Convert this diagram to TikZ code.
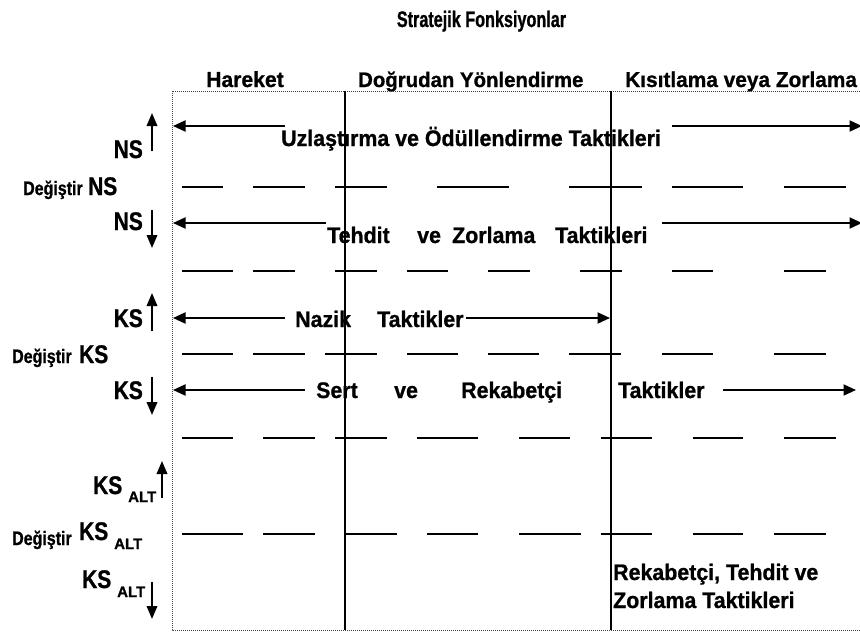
\documentclass[tikz,border=0pt]{standalone}
\usepackage{fontspec}
\setmainfont{Liberation Sans}[BoldFeatures={FakeBold=0.9}]
% normal-width and condensed cuts of the same family, slightly heavier bold
\newfontfamily\bodyfont{Liberation Sans}[FakeStretch=0.95, BoldFeatures={FakeBold=0.9}]
\newfontfamily\headfont{Liberation Sans}[FakeStretch=0.97, BoldFeatures={FakeBold=0.9}]
\newfontfamily\condfont{Liberation Sans}[FakeStretch=0.82, BoldFeatures={FakeBold=0.9}]
\newfontfamily\titlefont{Liberation Sans}[FakeStretch=0.72, BoldFeatures={FakeBold=0.9}]
\usetikzlibrary{arrows.meta}

\tikzset{
  body/.style={inner sep=0pt, font=\bodyfont\bfseries\fontsize{22.5}{27}\selectfont},
  head/.style={inner sep=0pt, font=\headfont\bfseries\fontsize{21}{25}\selectfont},
  big/.style={inner sep=0pt, font=\condfont\bfseries\fontsize{25.5}{30}\selectfont},
  small/.style={inner sep=0pt, font=\condfont\bfseries\fontsize{19.5}{23}\selectfont},
  sub/.style={inner sep=0pt, font=\bfseries\fontsize{15}{18}\selectfont},
  arr/.style={line width=2pt, -{Triangle[length=12.5pt,width=11pt]}},
  varr/.style={line width=2pt, -{Triangle[length=13pt,width=10.5pt]}},
  gapline/.style={line width=1.4pt},
  divider/.style={line width=1.5pt},
  frame/.style={densely dotted, line width=1pt, black!75}
}

\begin{document}
\begin{tikzpicture}[x=1pt, y=-1pt]
\useasboundingbox (0,0) rectangle (860,633);

% title and column headings
\node[inner sep=0pt, anchor=base, font=\titlefont\bfseries\fontsize{22.5}{26}\selectfont] (title) at (481.5,27) {Stratejik Fonksiyonlar};
\node[head, anchor=base west, font=\headfont\bfseries\fontsize{21.8}{26}\selectfont] (h1) at (206,87) {Hareket};
\node[head, anchor=base west] (h2) at (358,87) {Doğrudan Yönlendirme};
\node[head, anchor=base west, font=\headfont\bfseries\fontsize{21.5}{26}\selectfont] (h3) at (625,87) {Kısıtlama veya Zorlama};

% frame (open on the right) and column dividers
\coordinate (ftr) at (870,91);
\coordinate (ftl) at (172,91);
\coordinate (fbl) at (172,630);
\coordinate (fbr) at (870,630);
\draw[frame] (ftr) -- (ftl) -- (fbl) -- (fbr);
\coordinate (d1t) at (345,91);  \coordinate (d1b) at (345,630);
\coordinate (d2t) at (611,91);  \coordinate (d2b) at (611,630);
\draw[divider] (d1t) -- (d1b);
\draw[divider] (d2t) -- (d2b);

% broken separator lines between rows
\foreach \y/\segs in {
  187/{182/223,253/305,335/387,437/509,569/642,672/743,784/846},
  271/{182/233,253/295,335/377,407/448,488/530,580/622,672/713,784/826},
  354/{182/233,253/305,325/377,407/458,488/539,569/621,662/713,774/826},
  438/{182/233,263/315,335/387,417/478,519/570,601/652,693/743,784/836},
  534/{182/243,263/315,345/397,427/478,519/581,601/652,693/743,774/826}}{
  \foreach \a/\b in \segs {
    \draw[gapline] (\a,\y) -- (\b,\y);
  }
}

% row 1
\node[body, anchor=base west] (r1) at (281,146) {Uzlaştırma ve Ödüllendirme Taktikleri};
\coordinate (r1a) at (285,126); \coordinate (r1l) at (173,126);
\coordinate (r1b) at (672,126); \coordinate (r1r) at (862,126);
\draw[arr] (r1a) -- (r1l);
\draw[arr] (r1b) -- (r1r);

% row 2
\node[body, anchor=base west] (r2a) at (327,243) {Tehdit};
\node[body, anchor=base west] (r2b) at (417,243) {ve};
\node[body, anchor=base west] (r2c) at (452,243) {Zorlama};
\node[body, anchor=base west] (r2d) at (555,243) {Taktikleri};
\coordinate (r2s) at (326,223); \coordinate (r2l) at (173,223);
\coordinate (r2t) at (662,223); \coordinate (r2r) at (862,223);
\draw[arr] (r2s) -- (r2l);
\draw[arr] (r2t) -- (r2r);

% row 3
\node[body, anchor=base west] (r3a) at (295,327) {Nazik};
\node[body, anchor=base west] (r3b) at (377,327) {Taktikler};
\coordinate (r3s) at (285,318); \coordinate (r3l) at (173,318);
\coordinate (r3t) at (466,318); \coordinate (r3r) at (610,318);
\draw[arr] (r3s) -- (r3l);
\draw[arr] (r3t) -- (r3r);

% row 4
\node[body, anchor=base west] (r4a) at (316,398) {Sert};
\node[body, anchor=base west] (r4b) at (394,398) {ve};
\node[body, anchor=base west] (r4c) at (461,398) {Rekabetçi};
\node[body, anchor=base west] (r4d) at (618,398) {Taktikler};
\coordinate (r4s) at (305,390); \coordinate (r4l) at (173,390);
\coordinate (r4t) at (723,390); \coordinate (r4r) at (856,390);
\draw[arr] (r4s) -- (r4l);
\draw[arr] (r4t) -- (r4r);

% bottom right block
\node[body, anchor=base west] (b1) at (613,580) {Rekabetçi, Tehdit ve};
\node[body, anchor=base west] (b2) at (613,608) {Zorlama Taktikleri};

% left-hand labels
\node[big, anchor=base east] (ns1) at (143,158) {NS};
\coordinate (ns1a) at (152,151); \coordinate (ns1b) at (152,113);
\draw[varr] (ns1a) -- (ns1b);

\node[small, anchor=base west] (dg1) at (23,195) {Değiştir};
\node[big, anchor=base west] (ns2) at (88,195) {NS};

\node[big, anchor=base east] (ns3) at (143,230) {NS};
\coordinate (ns3a) at (152,210); \coordinate (ns3b) at (152,248);
\draw[varr] (ns3a) -- (ns3b);

\node[big, anchor=base east] (ks1) at (143,327) {KS};
\coordinate (ks1a) at (152,331); \coordinate (ks1b) at (152,293);
\draw[varr] (ks1a) -- (ks1b);

\node[small, anchor=base west] (dg2) at (12,363) {Değiştir};
\node[big, anchor=base west] (ks2) at (79,363) {KS};

\node[big, anchor=base east] (ks3) at (143,399) {KS};
\coordinate (ks3a) at (152,377); \coordinate (ks3b) at (152,415);
\draw[varr] (ks3a) -- (ks3b);

\node[big, anchor=base west] (ks4) at (93,494) {KS};
\node[sub, anchor=base west] (al1) at (128,502) {ALT};
\coordinate (ks4a) at (162,498); \coordinate (ks4b) at (162,461);
\draw[varr] (ks4a) -- (ks4b);

\node[small, anchor=base west] (dg3) at (12,545) {Değiştir};
\node[big, anchor=base west] (ks5) at (79,540) {KS};
\node[sub, anchor=base west] (al2) at (114,549) {ALT};

\node[big, anchor=base west] (ks6) at (82,588) {KS};
\node[sub, anchor=base west] (al3) at (117,597) {ALT};
\coordinate (ks6a) at (152,582); \coordinate (ks6b) at (152,619);
\draw[varr] (ks6a) -- (ks6b);
\end{tikzpicture}
\end{document}
